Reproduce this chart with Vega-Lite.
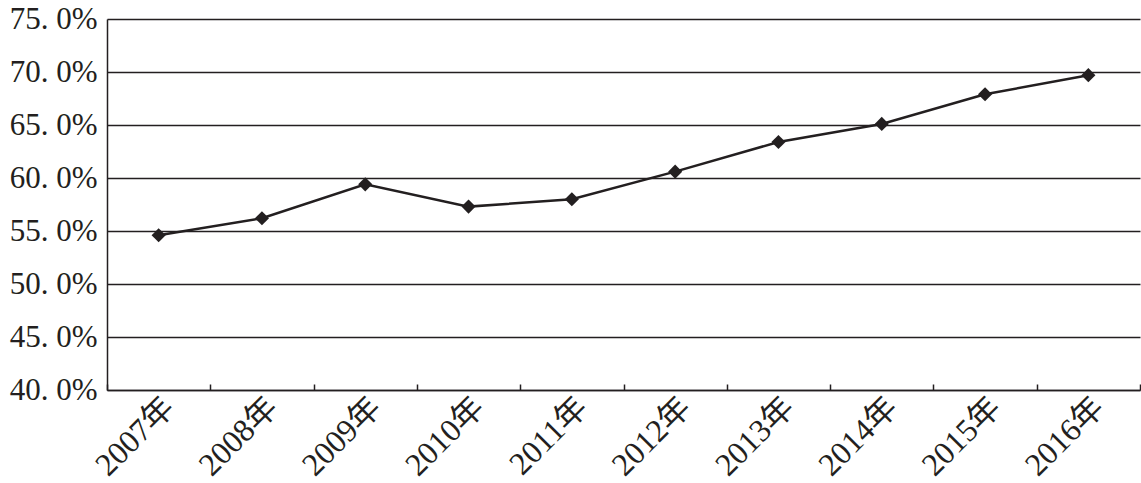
{
  "$schema": "https://vega.github.io/schema/vega-lite/v6.json",
  "width": 1033,
  "height": 371,
  "autosize": {"type": "none"},
  "padding": {"left": 107, "top": 19, "right": 1, "bottom": 93},
  "background": "white",
  "data": {
    "values": [
      {"year": "2007年", "value": 54.6},
      {"year": "2008年", "value": 56.2},
      {"year": "2009年", "value": 59.4},
      {"year": "2010年", "value": 57.3},
      {"year": "2011年", "value": 58.0},
      {"year": "2012年", "value": 60.6},
      {"year": "2013年", "value": 63.4},
      {"year": "2014年", "value": 65.1},
      {"year": "2015年", "value": 67.9},
      {"year": "2016年", "value": 69.7}
    ]
  },
  "config": {
    "view": {"stroke": null},
    "axis": {"labelFont": "Liberation Serif, Noto Sans CJK SC", "labelColor": "#231f20"}
  },
  "encoding": {
    "x": {
      "field": "year", "type": "ordinal", "sort": null,
      "scale": {"type": "band", "paddingInner": 0, "paddingOuter": 0},
      "axis": {
        "title": null, "tickBand": "extent", "tickSize": -6, "tickColor": "#231f20", "tickWidth": 1.5,
        "domainColor": "#231f20", "domainWidth": 1.5,
        "labelAngle": -45, "labelAlign": "right", "labelBaseline": "middle",
        "labelFontSize": 32, "labelPadding": 18, "labelOffset": 10, "grid": false
      }
    },
    "y": {
      "field": "value", "type": "quantitative",
      "scale": {"domain": [40, 75], "nice": false, "zero": false},
      "axis": {
        "title": null, "values": [40, 45, 50, 55, 60, 65, 70, 75],
        "labelExpr": "replace(format(datum.value, '.1f'), '.', '. ') + '%'",
        "labelFontSize": 31, "labelPadding": 10, "ticks": false,
        "domainColor": "#231f20", "domainWidth": 1.5,
        "grid": true, "gridColor": "#231f20", "gridWidth": 1.5, "gridOpacity": 1
      }
    }
  },
  "layer": [
    {"mark": {"type": "line", "color": "#231f20", "strokeWidth": 2.5}},
    {"mark": {"type": "point", "shape": "diamond", "filled": true, "size": 200, "color": "#231f20", "opacity": 1}}
  ]
}
